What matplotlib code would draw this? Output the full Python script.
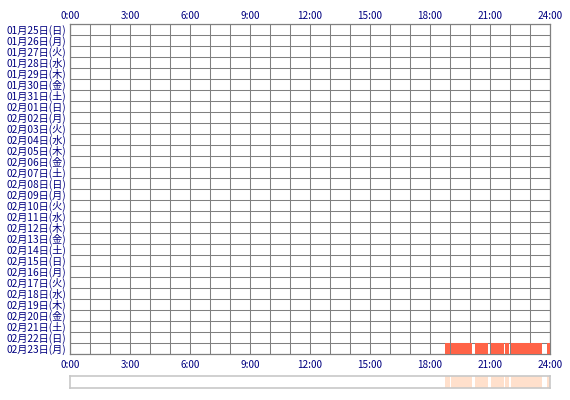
import matplotlib
matplotlib.use("Agg")
import matplotlib.pyplot as plt

plt.rcParams['font.family'] = ['Noto Sans CJK JP', 'DejaVu Sans']

day_labels = [
    "01月25日(日)", "01月26日(月)", "01月27日(火)", "01月28日(水)", "01月29日(木)",
    "01月30日(金)", "01月31日(土)", "02月01日(日)", "02月02日(月)", "02月03日(火)",
    "02月04日(水)", "02月05日(木)", "02月06日(金)", "02月07日(土)", "02月08日(日)",
    "02月09日(月)", "02月10日(火)", "02月11日(水)", "02月12日(木)", "02月13日(金)",
    "02月14日(土)", "02月15日(日)", "02月16日(月)", "02月17日(火)", "02月18日(水)",
    "02月19日(木)", "02月20日(金)", "02月21日(土)", "02月22日(日)", "02月23日(月)",
]
hour_ticks = list(range(0, 25))
hour_labels = ["0:00", "3:00", "6:00", "9:00", "12:00", "15:00", "18:00", "21:00", "24:00"]

# activity segments (day index, start hour, end hour)
seg_day = [29, 29, 29, 29, 29, 29, 29]
seg_start = [18.75, 19.05, 20.25, 21.05, 21.75, 22.03, 23.83]
seg_end = [19.00, 20.12, 20.92, 21.70, 21.95, 23.58, 24.00]

text_color = "#000080"
grid_color = "#808080"

W, H = 570, 400
fig = plt.figure(figsize=(W / 100, H / 100), dpi=100)
fig.patch.set_facecolor("white")

ax = fig.add_axes([70 / W, 1 - 354 / H, 480 / W, 330.5 / H])
ax.set_xlim(0, 24)
ax.set_ylim(len(day_labels), 0)

for d, s, e in zip(seg_day, seg_start, seg_end):
    ax.barh(d + 0.02, e - s, left=s, height=0.96, align="edge",
            color="#FF6347", edgecolor="none", zorder=3)

xt_labels = []
for h in hour_ticks:
    xt_labels.append(hour_labels[h // 3] if h % 3 == 0 else "")
ax.set_xticks(hour_ticks)
ax.set_xticklabels(xt_labels)
ax.set_yticks(range(len(day_labels) + 1))
ax.set_yticks([i + 0.5 for i in range(len(day_labels))], minor=True)
ax.set_yticklabels([""] * (len(day_labels) + 1))
ax.set_yticklabels(day_labels, minor=True)
ax.tick_params(axis="y", which="both", length=0, pad=3, labelsize=7.3, labelcolor=text_color)
ax.tick_params(axis="x", length=0, pad=4.5, labelsize=7.2, labelcolor=text_color)
ax.grid(True, which="major", color=grid_color, linewidth=0.75, zorder=1)
ax.set_axisbelow(True)
for sp in ax.spines.values():
    sp.set_color(grid_color)
    sp.set_linewidth(0.9)

top = ax.secondary_xaxis("top")
top.set_xticks(hour_ticks)
top.set_xticklabels(xt_labels)
top.tick_params(length=0, pad=2, labelsize=7.2, labelcolor=text_color)
top.spines["top"].set_visible(False)

# summary strip
ax2 = fig.add_axes([70 / W, 1 - 388 / H, 480 / W, 12 / H])
ax2.set_xlim(0, 24)
ax2.set_ylim(0, 1)
for s, e in zip(seg_start, seg_end):
    ax2.barh(0, e - s, left=s, height=1, align="edge", color="#FFE0CC", edgecolor="none")
ax2.set_xticks([])
ax2.set_yticks([])
for sp in ax2.spines.values():
    sp.set_color("#C8C8C8")
    sp.set_linewidth(1.2)

fig.savefig("out.png", dpi=100, facecolor="white")
